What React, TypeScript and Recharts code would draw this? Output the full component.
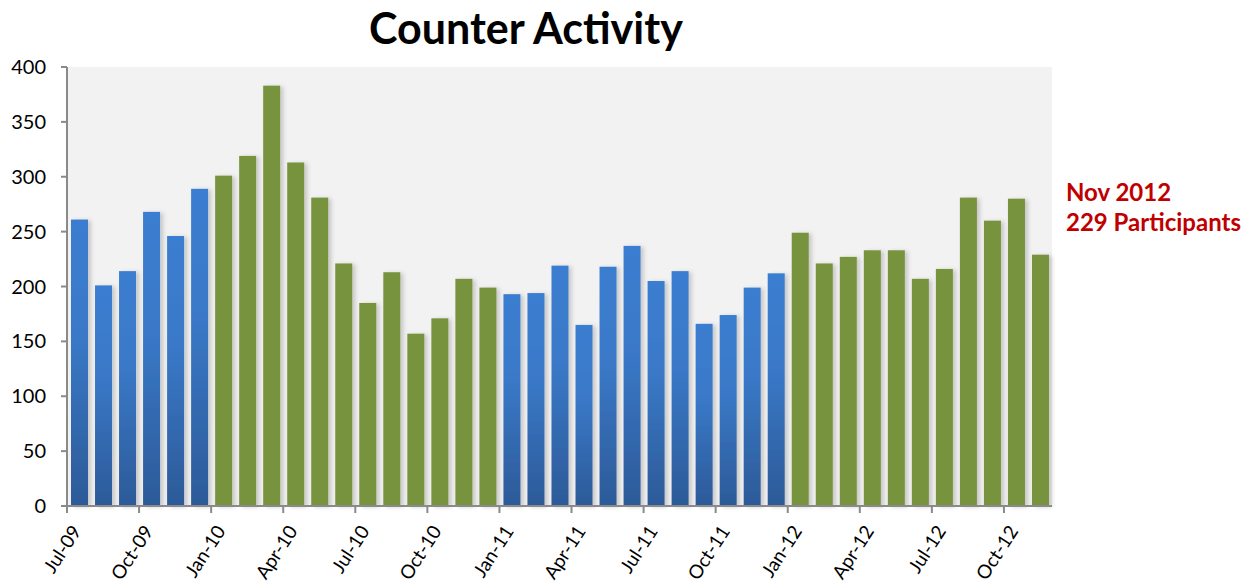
import React from "react";
import { BarChart, Bar, XAxis, YAxis, Cell } from "recharts";

const months = [
  "Jul-09","Aug-09","Sep-09","Oct-09","Nov-09","Dec-09",
  "Jan-10","Feb-10","Mar-10","Apr-10","May-10","Jun-10","Jul-10","Aug-10","Sep-10","Oct-10","Nov-10","Dec-10",
  "Jan-11","Feb-11","Mar-11","Apr-11","May-11","Jun-11","Jul-11","Aug-11","Sep-11","Oct-11","Nov-11","Dec-11",
  "Jan-12","Feb-12","Mar-12","Apr-12","May-12","Jun-12","Jul-12","Aug-12","Sep-12","Oct-12","Nov-12",
];
const participants = [
  261, 201, 214, 268, 246, 289,
  301, 319, 383, 313, 281, 221, 185, 213, 157, 171, 207, 199,
  193, 194, 219, 165, 218, 237, 205, 214, 166, 174, 199, 212,
  249, 221, 227, 233, 233, 207, 216, 281, 260, 280, 229,
];
const yTicks = [0, 50, 100, 150, 200, 250, 300, 350, 400];
const greenYears = ["10", "12"];

const data = months.map((m, i) => ({ month: m, value: participants[i] }));

const W = 1246;
const H = 586;
const LEFT = 67;
const RIGHT = 1052;
const TOP = 67;
const BOTTOM = 506;
const BAND = (RIGHT - LEFT) / months.length;
const FONT = "Lato, 'Open Sans', sans-serif";
const AXIS = "#8a8a8a";

function XTick(props: any) {
  const { x, y, payload } = props;
  const bx = x - BAND / 2;
  const tx = bx + 15;
  const ty = y + 25;
  return (
    <g>
      <line x1={bx} x2={bx} y1={y} y2={y + 7} stroke={AXIS} strokeWidth={2} />
      <text
        x={tx}
        y={ty}
        textAnchor="end"
        fontSize={19}
        fontFamily={FONT}
        fill="#000"
        transform={`rotate(-57, ${tx}, ${ty})`}
      >
        {payload.value}
      </text>
    </g>
  );
}

function BarShape(props: any) {
  const { x, y, width, height, payload } = props;
  const isGreen = greenYears.includes(String(payload.month).slice(-2));
  return (
    <rect
      x={x}
      y={y}
      width={width}
      height={height}
      fill={isGreen ? "#77933C" : "url(#blueGrad)"}
      filter="url(#barShadow)"
    />
  );
}

export default function App() {
  return (
    <div style={{ position: "absolute", left: 0, top: 0, width: W, height: H, background: "#fff" }}>
      <BarChart
        width={W}
        height={H}
        data={data}
        margin={{ top: TOP, right: W - RIGHT, bottom: 0, left: 0 }}
        barSize={17}
      >
        <defs>
          <linearGradient id="blueGrad" x1="0" y1="0" x2="0" y2="1">
            <stop offset="0%" stopColor="#3B7DD0" />
            <stop offset="40%" stopColor="#3A79C8" />
            <stop offset="100%" stopColor="#2C5A98" />
          </linearGradient>
          <filter id="barShadow" x="-30%" y="-10%" width="180%" height="120%">
            <feDropShadow dx="3" dy="1" stdDeviation="2" floodColor="#000" floodOpacity="0.18" />
          </filter>
        </defs>
        <rect x={LEFT} y={TOP} width={RIGHT - LEFT} height={BOTTOM - TOP} fill="#F2F2F2" />
        <XAxis
          dataKey="month"
          interval={2}
          height={H - BOTTOM}
          tickLine={false}
          tickSize={0}
          tickMargin={0}
          axisLine={{ stroke: AXIS, strokeWidth: 2 }}
          tick={<XTick />}
        />
        <XAxis
          xAxisId="top"
          orientation="top"
          dataKey="month"
          height={0}
          tick={false}
          tickLine={false}
          axisLine={{ stroke: AXIS, strokeWidth: 2 }}
        />
        <YAxis
          domain={[0, 400]}
          ticks={yTicks}
          width={LEFT}
          tickSize={6}
          tickMargin={15}
          tickLine={{ stroke: AXIS, strokeWidth: 2 }}
          axisLine={{ stroke: AXIS, strokeWidth: 2 }}
          tick={{ fontSize: 20, fill: "#000", fontFamily: FONT }}
          interval={0}
        />
        <YAxis
          yAxisId="right"
          orientation="right"
          domain={[0, 400]}
          width={0}
          tick={false}
          tickLine={false}
          axisLine={{ stroke: AXIS, strokeWidth: 2 }}
        />
        <Bar dataKey="value" isAnimationActive={false} shape={<BarShape />}>
          {data.map((d, i) => (
            <Cell key={i} />
          ))}
        </Bar>
      </BarChart>
      <svg
        width={W}
        height={H}
        style={{ position: "absolute", left: 0, top: 0, pointerEvents: "none" }}
      >
        <text x={526} y={44} textAnchor="middle" fontFamily={FONT} fontWeight={700} fontSize={43} fill="#000">
          Counter Activity
        </text>
        <text x={1066} y={201} fontFamily={FONT} fontWeight={700} fontSize={24} fill="#C00000">
          Nov 2012
        </text>
        <text x={1066} y={231} fontFamily={FONT} fontWeight={700} fontSize={24} fill="#C00000">
          229 Participants
        </text>
      </svg>
    </div>
  );
}
